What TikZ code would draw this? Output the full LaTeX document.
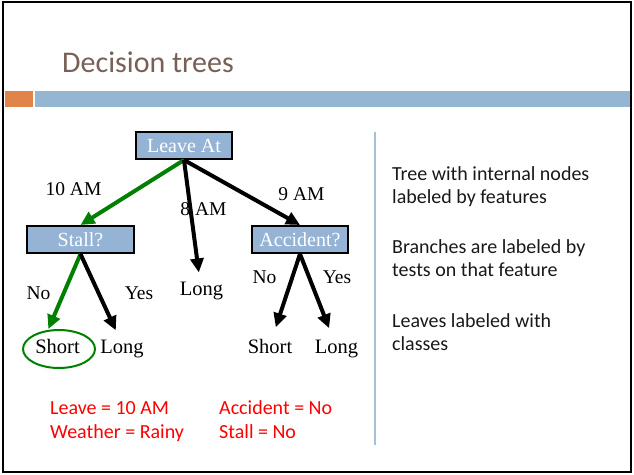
\documentclass[tikz,border=0pt]{standalone}
\usepackage{fontspec}
\setmainfont{Liberation Serif}
\newfontfamily\slidefont{Carlito}
\usepackage{tikz}
\usetikzlibrary{arrows.meta,positioning,shapes.geometric}
\definecolor{titlebrown}{RGB}{120,96,86}
\definecolor{accentorange}{RGB}{224,132,74}
\definecolor{barblue}{RGB}{148,182,210}
\definecolor{featblue}{RGB}{149,179,213}
\definecolor{pathgreen}{RGB}{0,128,0}

\begin{document}
\begin{tikzpicture}[
    x=1pt, y=-1pt,
    >={Triangle[length=14pt,width=13pt]},
    feature/.style={draw=black, line width=2pt, fill=featblue, text=white,
        minimum height=27pt, inner sep=0pt,
        font=\fontsize{20}{24}\selectfont},
    leaf/.style={inner sep=0pt, anchor=base, font=\fontsize{20.5}{24}\selectfont},
    branch/.style={inner sep=0pt, anchor=base, font=\fontsize{19.5}{24}\selectfont},
    taken/.style={->, line width=4pt, pathgreen},
    other/.style={->, line width=4pt, black},
    bullet/.style={inner sep=0pt, anchor=base west, text=black!90,
        font=\slidefont\fontsize{20}{24}\selectfont},
    example/.style={inner sep=0pt, anchor=base west, text=red,
        font=\slidefont\fontsize{20}{24}\selectfont},
]
\useasboundingbox (0,0) rectangle (634,474);
\draw[line width=2pt] (3,2) rectangle (631,472);

% title and bars
\node[anchor=base west, inner sep=0pt, text=titlebrown,
    font=\slidefont\fontsize{30}{36}\selectfont] (title) at (62,72) {Decision trees};
\fill[accentorange] (5,91) rectangle (33,107);
\fill[barblue] (35,91) rectangle (630,107);
\draw[line width=2pt, barblue!85!white] (375,132) -- (375,445);

% tree
\node[feature, minimum width=96pt] (leave) at (184,145.5) {Leave At};
\node[feature, minimum width=107pt] (stall) at (80.5,239.5) {Stall?};
\node[feature, minimum width=96pt] (accident) at (300,239.5) {Accident?};

\node[leaf] (shortL) at (57.5,353) {Short};
\node[leaf] (longL) at (122,353) {Long};
\node[leaf] (longM) at (201.5,295) {Long};
\node[leaf] (shortR) at (270,353) {Short};
\node[leaf] (longR) at (336.5,353) {Long};
\node[ellipse, draw=pathgreen, line width=2pt, minimum width=72pt,
    minimum height=38pt] (ring) at (59,349) {};

\draw[taken] (leave.south) -- (stall.north);
\draw[other] (leave.south) -- ([xshift=-1.5pt]longM.north) [shorten >=9pt];
\draw[other] (leave.south) -- (accident.north);
\draw[taken, shorten >=1pt] (stall.south) -- (ring.120);
\draw[other, shorten >=10pt] (stall.south) -- ([xshift=-2pt]longL.north);
\draw[other, shorten >=12pt] (accident.south) -- ([xshift=2pt]shortR.north);
\draw[other, shorten >=12pt] (accident.south) -- ([xshift=-3pt]longR.north);

\node[branch] (tenam) at (73.5,195) {10 AM};
\node[branch] (eightam) at (203.5,215.5) {8 AM};
\node[branch] (nineam) at (301.5,200) {9 AM};
\node[branch] (noL) at (38.5,299) {No};
\node[branch] (yesL) at (139,299) {Yes};
\node[branch] (noR) at (264.5,283) {No};
\node[branch] (yesR) at (337,283) {Yes};

% notes on the right
\node[bullet] (treeA) at (392,180) {Tree with internal nodes};
\node[bullet] (treeB) at (392,203.5) {labeled by features};
\node[bullet] (branchA) at (392,253) {Branches are labeled by};
\node[bullet] (branchB) at (392,276.5) {tests on that feature};
\node[bullet] (leafA) at (392,327) {Leaves labeled with};
\node[bullet] (leafB) at (392,350.5) {classes};

% example instance
\node[example] (exleave) at (50,414) {Leave = 10 AM};
\node[example] (exweather) at (50,438) {Weather = Rainy};
\node[example] (exaccident) at (219,414) {Accident = No};
\node[example] (exstall) at (219,438) {Stall = No};
\end{tikzpicture}
\end{document}
